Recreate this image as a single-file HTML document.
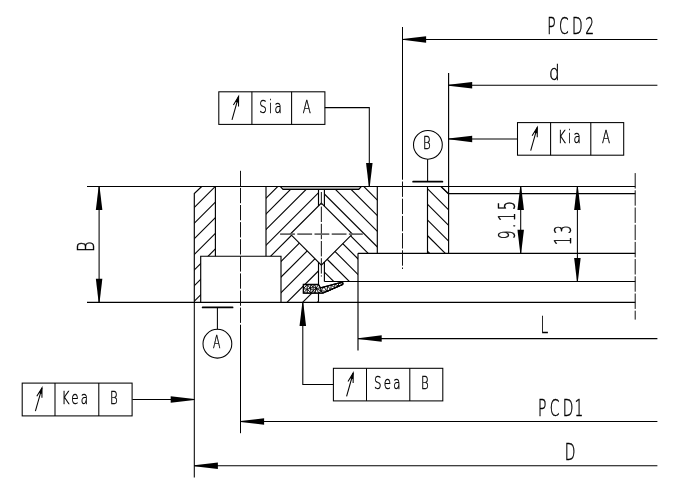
<!DOCTYPE html>
<html><head><meta charset="utf-8"><title>Bearing drawing</title>
<style>
html,body{margin:0;padding:0;background:#fff;}
svg{display:block;}
.o{stroke:#000;stroke-width:1.15;fill:none;stroke-linecap:butt;stroke-linejoin:miter;}
.h{stroke:#000;stroke-width:1.12;fill:none;}
.d{stroke:#000;stroke-width:1.05;fill:none;}
.b{stroke:#000;stroke-width:1.7;fill:none;stroke-linecap:round;}
.c{stroke:#111;stroke-width:1.0;fill:none;}
.cg{stroke:#666;stroke-width:1.6;fill:none;}
.a{fill:#000;stroke:none;}
.rg{stroke:#a8a8a8;stroke-width:1.5;fill:none;}
.seal{fill:#fff;stroke:#000;stroke-width:1.3;stroke-linejoin:miter;}
.mesh{stroke:#000;stroke-width:0.95;fill:none;}
.t{font-family:'DejaVu Sans Light','DejaVu Sans','Liberation Sans',sans-serif;font-weight:200;fill:#000;stroke:#000;stroke-width:0.45;}
</style></head>
<body>
<svg width="686" height="481" viewBox="0 0 686 481" style="will-change:transform">
<rect x="0" y="0" width="686" height="481" fill="#fff"/>
<defs>
<clipPath id="cA"><path d="M194.30 193.60 L201.70 186.50 L215.40 186.50 L215.40 256.20 L200.70 256.20 L200.70 302.40 L194.30 302.40 Z"/></clipPath>
<clipPath id="cB"><path d="M266.00 186.50 L280.40 186.50 L283.00 189.40 L318.50 189.40 L318.50 205.95 L290.35 234.10 L318.50 262.25 L318.50 284.50 L303.25 284.50 L303.25 293.10 L318.50 293.10 L318.50 301.20 L317.40 302.40 L281.00 302.40 L281.00 256.20 L266.00 256.20 Z"/></clipPath>
<clipPath id="cC"><path d="M324.40 189.40 L358.75 189.40 L361.25 186.50 L377.30 186.50 L377.30 253.30 L358.00 253.30 L358.00 281.50 L324.40 281.50 L324.40 262.05 L352.35 234.10 L324.40 206.15 Z"/></clipPath>
<clipPath id="cD"><path d="M427.50 186.50 L441.00 186.50 L448.60 193.60 L448.60 253.30 L427.50 253.30 Z"/></clipPath>
</defs>
<g clip-path="url(#cA)">
<line x1="190.00" y1="133.65" x2="220.00" y2="103.65" class="h" />
<line x1="190.00" y1="149.28" x2="220.00" y2="119.28" class="h" />
<line x1="190.00" y1="164.91" x2="220.00" y2="134.91" class="h" />
<line x1="190.00" y1="180.54" x2="220.00" y2="150.54" class="h" />
<line x1="190.00" y1="196.17" x2="220.00" y2="166.17" class="h" />
<line x1="190.00" y1="211.80" x2="220.00" y2="181.80" class="h" />
<line x1="190.00" y1="227.43" x2="220.00" y2="197.43" class="h" />
<line x1="190.00" y1="243.06" x2="220.00" y2="213.06" class="h" />
<line x1="190.00" y1="258.69" x2="220.00" y2="228.69" class="h" />
<line x1="190.00" y1="274.32" x2="220.00" y2="244.32" class="h" />
<line x1="190.00" y1="289.95" x2="220.00" y2="259.95" class="h" />
<line x1="190.00" y1="305.58" x2="220.00" y2="275.58" class="h" />
<line x1="190.00" y1="321.21" x2="220.00" y2="291.21" class="h" />
<line x1="190.00" y1="336.84" x2="220.00" y2="306.84" class="h" />
<line x1="190.00" y1="352.47" x2="220.00" y2="322.47" class="h" />
<line x1="190.00" y1="368.10" x2="220.00" y2="338.10" class="h" />
<line x1="190.00" y1="383.73" x2="220.00" y2="353.73" class="h" />
<line x1="190.00" y1="399.36" x2="220.00" y2="369.36" class="h" />
<line x1="190.00" y1="414.99" x2="220.00" y2="384.99" class="h" />
<line x1="190.00" y1="430.62" x2="220.00" y2="400.62" class="h" />
<line x1="190.00" y1="446.25" x2="220.00" y2="416.25" class="h" />
<line x1="190.00" y1="461.88" x2="220.00" y2="431.88" class="h" />
<line x1="190.00" y1="477.51" x2="220.00" y2="447.51" class="h" />
<line x1="190.00" y1="493.14" x2="220.00" y2="463.14" class="h" />
<line x1="190.00" y1="508.77" x2="220.00" y2="478.77" class="h" />
<line x1="190.00" y1="524.40" x2="220.00" y2="494.40" class="h" />
<line x1="190.00" y1="540.03" x2="220.00" y2="510.03" class="h" />
<line x1="190.00" y1="555.66" x2="220.00" y2="525.66" class="h" />
<line x1="190.00" y1="571.29" x2="220.00" y2="541.29" class="h" />
<line x1="190.00" y1="586.92" x2="220.00" y2="556.92" class="h" />
<line x1="190.00" y1="602.55" x2="220.00" y2="572.55" class="h" />
<line x1="190.00" y1="618.18" x2="220.00" y2="588.18" class="h" />
<line x1="190.00" y1="633.81" x2="220.00" y2="603.81" class="h" />
<line x1="190.00" y1="649.44" x2="220.00" y2="619.44" class="h" />
<line x1="190.00" y1="665.07" x2="220.00" y2="635.07" class="h" />
<line x1="190.00" y1="680.70" x2="220.00" y2="650.70" class="h" />
<line x1="190.00" y1="696.33" x2="220.00" y2="666.33" class="h" />
<line x1="190.00" y1="711.96" x2="220.00" y2="681.96" class="h" />
<line x1="190.00" y1="727.59" x2="220.00" y2="697.59" class="h" />
<line x1="190.00" y1="743.22" x2="220.00" y2="713.22" class="h" />
<line x1="190.00" y1="758.85" x2="220.00" y2="728.85" class="h" />
<line x1="190.00" y1="774.48" x2="220.00" y2="744.48" class="h" />
<line x1="190.00" y1="790.11" x2="220.00" y2="760.11" class="h" />
<line x1="190.00" y1="805.74" x2="220.00" y2="775.74" class="h" />
<line x1="190.00" y1="821.37" x2="220.00" y2="791.37" class="h" />
</g>
<g clip-path="url(#cB)">
<line x1="260.00" y1="63.65" x2="325.00" y2="-1.35" class="h" />
<line x1="260.00" y1="79.28" x2="325.00" y2="14.28" class="h" />
<line x1="260.00" y1="94.91" x2="325.00" y2="29.91" class="h" />
<line x1="260.00" y1="110.54" x2="325.00" y2="45.54" class="h" />
<line x1="260.00" y1="126.17" x2="325.00" y2="61.17" class="h" />
<line x1="260.00" y1="141.80" x2="325.00" y2="76.80" class="h" />
<line x1="260.00" y1="157.43" x2="325.00" y2="92.43" class="h" />
<line x1="260.00" y1="173.06" x2="325.00" y2="108.06" class="h" />
<line x1="260.00" y1="188.69" x2="325.00" y2="123.69" class="h" />
<line x1="260.00" y1="204.32" x2="325.00" y2="139.32" class="h" />
<line x1="260.00" y1="219.95" x2="325.00" y2="154.95" class="h" />
<line x1="260.00" y1="235.58" x2="325.00" y2="170.58" class="h" />
<line x1="260.00" y1="251.21" x2="325.00" y2="186.21" class="h" />
<line x1="260.00" y1="266.84" x2="325.00" y2="201.84" class="h" />
<line x1="260.00" y1="282.47" x2="325.00" y2="217.47" class="h" />
<line x1="260.00" y1="298.10" x2="325.00" y2="233.10" class="h" />
<line x1="260.00" y1="313.73" x2="325.00" y2="248.73" class="h" />
<line x1="260.00" y1="329.36" x2="325.00" y2="264.36" class="h" />
<line x1="260.00" y1="344.99" x2="325.00" y2="279.99" class="h" />
<line x1="260.00" y1="360.62" x2="325.00" y2="295.62" class="h" />
<line x1="260.00" y1="376.25" x2="325.00" y2="311.25" class="h" />
<line x1="260.00" y1="391.88" x2="325.00" y2="326.88" class="h" />
<line x1="260.00" y1="407.51" x2="325.00" y2="342.51" class="h" />
<line x1="260.00" y1="423.14" x2="325.00" y2="358.14" class="h" />
<line x1="260.00" y1="438.77" x2="325.00" y2="373.77" class="h" />
<line x1="260.00" y1="454.40" x2="325.00" y2="389.40" class="h" />
<line x1="260.00" y1="470.03" x2="325.00" y2="405.03" class="h" />
<line x1="260.00" y1="485.66" x2="325.00" y2="420.66" class="h" />
<line x1="260.00" y1="501.29" x2="325.00" y2="436.29" class="h" />
<line x1="260.00" y1="516.92" x2="325.00" y2="451.92" class="h" />
<line x1="260.00" y1="532.55" x2="325.00" y2="467.55" class="h" />
<line x1="260.00" y1="548.18" x2="325.00" y2="483.18" class="h" />
<line x1="260.00" y1="563.81" x2="325.00" y2="498.81" class="h" />
<line x1="260.00" y1="579.44" x2="325.00" y2="514.44" class="h" />
<line x1="260.00" y1="595.07" x2="325.00" y2="530.07" class="h" />
<line x1="260.00" y1="610.70" x2="325.00" y2="545.70" class="h" />
<line x1="260.00" y1="626.33" x2="325.00" y2="561.33" class="h" />
<line x1="260.00" y1="641.96" x2="325.00" y2="576.96" class="h" />
<line x1="260.00" y1="657.59" x2="325.00" y2="592.59" class="h" />
<line x1="260.00" y1="673.22" x2="325.00" y2="608.22" class="h" />
<line x1="260.00" y1="688.85" x2="325.00" y2="623.85" class="h" />
<line x1="260.00" y1="704.48" x2="325.00" y2="639.48" class="h" />
<line x1="260.00" y1="720.11" x2="325.00" y2="655.11" class="h" />
<line x1="260.00" y1="735.74" x2="325.00" y2="670.74" class="h" />
<line x1="260.00" y1="751.37" x2="325.00" y2="686.37" class="h" />
</g>
<g clip-path="url(#cC)">
<line x1="320.00" y1="64.55" x2="380.00" y2="124.55" class="h" />
<line x1="320.00" y1="80.18" x2="380.00" y2="140.18" class="h" />
<line x1="320.00" y1="95.81" x2="380.00" y2="155.81" class="h" />
<line x1="320.00" y1="111.44" x2="380.00" y2="171.44" class="h" />
<line x1="320.00" y1="127.07" x2="380.00" y2="187.07" class="h" />
<line x1="320.00" y1="142.70" x2="380.00" y2="202.70" class="h" />
<line x1="320.00" y1="158.33" x2="380.00" y2="218.33" class="h" />
<line x1="320.00" y1="173.96" x2="380.00" y2="233.96" class="h" />
<line x1="320.00" y1="189.59" x2="380.00" y2="249.59" class="h" />
<line x1="320.00" y1="205.22" x2="380.00" y2="265.22" class="h" />
<line x1="320.00" y1="220.85" x2="380.00" y2="280.85" class="h" />
<line x1="320.00" y1="236.48" x2="380.00" y2="296.48" class="h" />
<line x1="320.00" y1="252.11" x2="380.00" y2="312.11" class="h" />
<line x1="320.00" y1="267.74" x2="380.00" y2="327.74" class="h" />
<line x1="320.00" y1="283.37" x2="380.00" y2="343.37" class="h" />
<line x1="320.00" y1="299.00" x2="380.00" y2="359.00" class="h" />
<line x1="320.00" y1="314.63" x2="380.00" y2="374.63" class="h" />
<line x1="320.00" y1="330.26" x2="380.00" y2="390.26" class="h" />
<line x1="320.00" y1="345.89" x2="380.00" y2="405.89" class="h" />
<line x1="320.00" y1="361.52" x2="380.00" y2="421.52" class="h" />
<line x1="320.00" y1="377.15" x2="380.00" y2="437.15" class="h" />
<line x1="320.00" y1="392.78" x2="380.00" y2="452.78" class="h" />
<line x1="320.00" y1="408.41" x2="380.00" y2="468.41" class="h" />
<line x1="320.00" y1="424.04" x2="380.00" y2="484.04" class="h" />
<line x1="320.00" y1="439.67" x2="380.00" y2="499.67" class="h" />
<line x1="320.00" y1="455.30" x2="380.00" y2="515.30" class="h" />
<line x1="320.00" y1="470.93" x2="380.00" y2="530.93" class="h" />
<line x1="320.00" y1="486.56" x2="380.00" y2="546.56" class="h" />
<line x1="320.00" y1="502.19" x2="380.00" y2="562.19" class="h" />
<line x1="320.00" y1="517.82" x2="380.00" y2="577.82" class="h" />
<line x1="320.00" y1="533.45" x2="380.00" y2="593.45" class="h" />
<line x1="320.00" y1="549.08" x2="380.00" y2="609.08" class="h" />
<line x1="320.00" y1="564.71" x2="380.00" y2="624.71" class="h" />
<line x1="320.00" y1="580.34" x2="380.00" y2="640.34" class="h" />
<line x1="320.00" y1="595.97" x2="380.00" y2="655.97" class="h" />
<line x1="320.00" y1="611.60" x2="380.00" y2="671.60" class="h" />
<line x1="320.00" y1="627.23" x2="380.00" y2="687.23" class="h" />
<line x1="320.00" y1="642.86" x2="380.00" y2="702.86" class="h" />
<line x1="320.00" y1="658.49" x2="380.00" y2="718.49" class="h" />
<line x1="320.00" y1="674.12" x2="380.00" y2="734.12" class="h" />
<line x1="320.00" y1="689.75" x2="380.00" y2="749.75" class="h" />
<line x1="320.00" y1="705.38" x2="380.00" y2="765.38" class="h" />
<line x1="320.00" y1="721.01" x2="380.00" y2="781.01" class="h" />
<line x1="320.00" y1="736.64" x2="380.00" y2="796.64" class="h" />
<line x1="320.00" y1="752.27" x2="380.00" y2="812.27" class="h" />
</g>
<g clip-path="url(#cD)">
<line x1="425.00" y1="76.79" x2="450.00" y2="101.79" class="h" />
<line x1="425.00" y1="92.42" x2="450.00" y2="117.42" class="h" />
<line x1="425.00" y1="108.05" x2="450.00" y2="133.05" class="h" />
<line x1="425.00" y1="123.68" x2="450.00" y2="148.68" class="h" />
<line x1="425.00" y1="139.31" x2="450.00" y2="164.31" class="h" />
<line x1="425.00" y1="154.94" x2="450.00" y2="179.94" class="h" />
<line x1="425.00" y1="170.57" x2="450.00" y2="195.57" class="h" />
<line x1="425.00" y1="186.20" x2="450.00" y2="211.20" class="h" />
<line x1="425.00" y1="201.83" x2="450.00" y2="226.83" class="h" />
<line x1="425.00" y1="217.46" x2="450.00" y2="242.46" class="h" />
<line x1="425.00" y1="233.09" x2="450.00" y2="258.09" class="h" />
<line x1="425.00" y1="248.72" x2="450.00" y2="273.72" class="h" />
<line x1="425.00" y1="264.35" x2="450.00" y2="289.35" class="h" />
<line x1="425.00" y1="279.98" x2="450.00" y2="304.98" class="h" />
<line x1="425.00" y1="295.61" x2="450.00" y2="320.61" class="h" />
<line x1="425.00" y1="311.24" x2="450.00" y2="336.24" class="h" />
<line x1="425.00" y1="326.87" x2="450.00" y2="351.87" class="h" />
<line x1="425.00" y1="342.50" x2="450.00" y2="367.50" class="h" />
<line x1="425.00" y1="358.13" x2="450.00" y2="383.13" class="h" />
<line x1="425.00" y1="373.76" x2="450.00" y2="398.76" class="h" />
<line x1="425.00" y1="389.39" x2="450.00" y2="414.39" class="h" />
<line x1="425.00" y1="405.02" x2="450.00" y2="430.02" class="h" />
<line x1="425.00" y1="420.65" x2="450.00" y2="445.65" class="h" />
<line x1="425.00" y1="436.28" x2="450.00" y2="461.28" class="h" />
<line x1="425.00" y1="451.91" x2="450.00" y2="476.91" class="h" />
<line x1="425.00" y1="467.54" x2="450.00" y2="492.54" class="h" />
<line x1="425.00" y1="483.17" x2="450.00" y2="508.17" class="h" />
<line x1="425.00" y1="498.80" x2="450.00" y2="523.80" class="h" />
<line x1="425.00" y1="514.43" x2="450.00" y2="539.43" class="h" />
<line x1="425.00" y1="530.06" x2="450.00" y2="555.06" class="h" />
<line x1="425.00" y1="545.69" x2="450.00" y2="570.69" class="h" />
<line x1="425.00" y1="561.32" x2="450.00" y2="586.32" class="h" />
<line x1="425.00" y1="576.95" x2="450.00" y2="601.95" class="h" />
<line x1="425.00" y1="592.58" x2="450.00" y2="617.58" class="h" />
<line x1="425.00" y1="608.21" x2="450.00" y2="633.21" class="h" />
<line x1="425.00" y1="623.84" x2="450.00" y2="648.84" class="h" />
<line x1="425.00" y1="639.47" x2="450.00" y2="664.47" class="h" />
<line x1="425.00" y1="655.10" x2="450.00" y2="680.10" class="h" />
<line x1="425.00" y1="670.73" x2="450.00" y2="695.73" class="h" />
<line x1="425.00" y1="686.36" x2="450.00" y2="711.36" class="h" />
<line x1="425.00" y1="701.99" x2="450.00" y2="726.99" class="h" />
<line x1="425.00" y1="717.62" x2="450.00" y2="742.62" class="h" />
<line x1="425.00" y1="733.25" x2="450.00" y2="758.25" class="h" />
<line x1="425.00" y1="748.88" x2="450.00" y2="773.88" class="h" />
<line x1="425.00" y1="764.51" x2="450.00" y2="789.51" class="h" />
</g>
<line x1="87.00" y1="186.50" x2="635.30" y2="186.50" class="o" />
<line x1="87.00" y1="302.40" x2="635.30" y2="302.40" class="o" />
<line x1="448.60" y1="193.60" x2="635.30" y2="193.60" class="o" />
<line x1="358.00" y1="253.30" x2="635.30" y2="253.30" class="o" />
<line x1="324.40" y1="281.50" x2="635.30" y2="281.50" class="o" />
<path d="M194.30 302.40 L194.30 193.60 L201.70 186.50" class="o" />
<line x1="215.40" y1="186.50" x2="215.40" y2="256.20" class="o" />
<path d="M200.70 302.40 L200.70 256.20 L281.00 256.20 L281.00 302.40" class="o" />
<line x1="266.00" y1="186.50" x2="266.00" y2="256.20" class="o" />
<line x1="282.40" y1="188.00" x2="359.40" y2="188.00" class="rg" />
<path d="M280.40 186.50 L283.00 189.40 L358.75 189.40 L361.25 186.50" class="o" />
<line x1="318.50" y1="189.40" x2="318.50" y2="205.95" class="o" />
<line x1="324.40" y1="189.40" x2="324.40" y2="206.15" class="o" />
<line x1="318.50" y1="262.25" x2="318.50" y2="284.50" class="o" />
<line x1="324.40" y1="262.05" x2="324.40" y2="281.50" class="o" />
<path d="M318.50 293.10 L318.50 301.20 L317.40 302.40" class="o" />
<path d="M321.35 203.10 L352.35 234.10 L321.35 265.10 L290.35 234.10 Z" class="o" />
<path d="M377.30 186.50 L377.30 253.30" class="o" />
<line x1="358.00" y1="253.30" x2="358.00" y2="350.40" class="o" />
<line x1="427.50" y1="186.50" x2="427.50" y2="253.30" class="o" />
<path d="M441.00 186.50 L448.60 193.60" class="o" />
<line x1="448.60" y1="73.00" x2="448.60" y2="253.30" class="o" />
<path d="M303.40 284.50 L318.50 284.50 L320.40 287.90 L342.00 282.10 L343.00 282.90 L342.70 284.50 L322.90 293.10 L303.40 293.10 Z" class="seal"/>
<path d="M303.4 284.5L307.2 284.5 M303.4 284.5L303.4 288.8 M307.2 284.5L310.9 284.5 M307.2 284.5L303.4 288.8 M307.2 284.5L310.4 288.5 M307.2 284.5L307.2 289.1 M310.9 284.5L314.7 284.5 M310.9 284.5L310.4 288.5 M310.9 284.5L312.9 286.8 M314.7 284.5L318.5 284.5 M314.7 284.5L315.9 288.5 M314.7 284.5L312.9 286.8 M318.5 284.5L320.4 287.9 M318.5 284.5L315.9 288.5 M320.4 287.9L324.0 286.9 M320.4 287.9L315.9 288.5 M320.4 287.9L320.9 290.8 M324.0 286.9L327.6 286.0 M324.0 286.9L326.9 291.4 M324.0 286.9L320.9 290.8 M327.6 286.0L331.2 285.0 M327.6 286.0L330.8 289.7 M327.6 286.0L326.9 291.4 M331.2 285.0L334.8 284.0 M331.2 285.0L334.8 287.9 M331.2 285.0L330.8 289.7 M334.8 284.0L338.4 283.1 M334.8 284.0L338.7 286.2 M334.8 284.0L334.8 287.9 M338.4 283.1L342.0 282.1 M338.4 283.1L342.7 284.5 M338.4 283.1L338.7 286.2 M342.0 282.1L343.0 282.9 M342.0 282.1L342.7 284.5 M343.0 282.9L342.7 284.5 M342.7 284.5L338.7 286.2 M342.7 284.5L326.9 291.4 M338.7 286.2L334.8 287.9 M338.7 286.2L326.9 291.4 M334.8 287.9L330.8 289.7 M334.8 287.9L326.9 291.4 M330.8 289.7L326.9 291.4 M326.9 291.4L322.9 293.1 M326.9 291.4L320.9 290.8 M322.9 293.1L319.0 293.1 M322.9 293.1L320.9 290.8 M319.0 293.1L315.1 293.1 M319.0 293.1L315.9 288.5 M319.0 293.1L320.9 290.8 M315.1 293.1L311.2 293.1 M315.1 293.1L315.9 288.5 M315.1 293.1L313.4 290.5 M311.2 293.1L307.3 293.1 M311.2 293.1L310.4 288.5 M311.2 293.1L307.2 289.1 M311.2 293.1L313.4 290.5 M307.3 293.1L303.4 293.1 M307.3 293.1L307.2 289.1 M303.4 293.1L303.4 288.8 M303.4 293.1L307.2 289.1 M303.4 288.8L307.2 289.1 M310.4 288.5L307.2 289.1 M310.4 288.5L313.4 290.5 M310.4 288.5L312.9 286.8 M315.9 288.5L320.9 290.8 M315.9 288.5L313.4 290.5 M315.9 288.5L312.9 286.8 M313.4 290.5L312.9 286.8" class="mesh"/>
<line x1="240.50" y1="170.80" x2="240.50" y2="322.90" class="c" stroke-dasharray="15.3 1.8"/>
<line x1="240.50" y1="324.70" x2="240.50" y2="433.20" class="d" />
<line x1="402.50" y1="27.00" x2="402.50" y2="179.70" class="d" />
<line x1="402.50" y1="181.50" x2="402.50" y2="269.00" class="c" stroke-dasharray="15.4 1.8"/>
<line x1="635.20" y1="173.10" x2="635.20" y2="319.60" class="c" stroke-dasharray="15.4 1.8"/>
<line x1="321.35" y1="192.00" x2="321.35" y2="276.50" class="c" stroke-dasharray="15.4 1.8" stroke-dashoffset="2.6"/>
<line x1="280.10" y1="234.10" x2="362.80" y2="234.10" class="cg" stroke-dasharray="14.8 2.4"/>
<line x1="402.50" y1="39.40" x2="657.40" y2="39.40" class="d" />
<polygon points="402.50,39.85 426.10,42.65 426.10,36.15 402.50,38.95" class="a"/>
<line x1="448.60" y1="85.20" x2="657.40" y2="85.20" class="d" />
<polygon points="448.60,85.65 472.20,88.45 472.20,81.95 448.60,84.75" class="a"/>
<line x1="448.60" y1="138.90" x2="517.50" y2="138.90" class="d" />
<polygon points="448.60,139.35 472.20,142.15 472.20,135.65 448.60,138.45" class="a"/>
<line x1="358.10" y1="338.60" x2="657.40" y2="338.60" class="d" />
<polygon points="358.10,339.05 381.70,341.85 381.70,335.35 358.10,338.15" class="a"/>
<line x1="240.50" y1="421.50" x2="657.40" y2="421.50" class="d" />
<polygon points="240.50,421.95 264.10,424.75 264.10,418.25 240.50,421.05" class="a"/>
<line x1="194.30" y1="465.70" x2="657.40" y2="465.70" class="d" />
<polygon points="194.30,466.15 217.90,468.95 217.90,462.45 194.30,465.25" class="a"/>
<line x1="194.30" y1="302.40" x2="194.30" y2="477.60" class="d" />
<line x1="132.40" y1="399.50" x2="194.30" y2="399.50" class="d" />
<polygon points="194.30,399.05 170.70,396.25 170.70,402.75 194.30,399.95" class="a"/>
<line x1="99.10" y1="186.50" x2="99.10" y2="302.40" class="d" />
<polygon points="98.65,186.50 95.85,210.10 102.35,210.10 99.55,186.50" class="a"/>
<polygon points="99.55,302.40 102.35,278.80 95.85,278.80 98.65,302.40" class="a"/>
<line x1="520.70" y1="186.50" x2="520.70" y2="253.30" class="d" />
<polygon points="520.25,186.50 517.45,210.10 523.95,210.10 521.15,186.50" class="a"/>
<polygon points="521.15,253.30 523.95,229.70 517.45,229.70 520.25,253.30" class="a"/>
<line x1="577.40" y1="186.50" x2="577.40" y2="281.50" class="d" />
<polygon points="576.95,186.50 574.15,210.10 580.65,210.10 577.85,186.50" class="a"/>
<polygon points="577.85,281.50 580.65,257.90 574.15,257.90 576.95,281.50" class="a"/>
<path d="M324.80 107.60 L369.30 107.60 L369.30 186.50" class="d" />
<polygon points="369.75,186.50 372.55,162.90 366.05,162.90 368.85,186.50" class="a"/>
<path d="M333.40 384.50 L302.80 384.50 L302.80 302.40" class="d" />
<polygon points="302.35,302.40 299.55,326.00 306.05,326.00 303.25,302.40" class="a"/>
<circle cx="427.9" cy="144.8" r="14.4" class="d"/>
<line x1="427.60" y1="159.20" x2="427.60" y2="181.60" class="d" />
<line x1="413.10" y1="181.70" x2="442.40" y2="181.70" class="b" />
<circle cx="217.4" cy="343.7" r="14.4" class="d"/>
<line x1="217.40" y1="307.40" x2="217.40" y2="329.30" class="d" />
<line x1="202.60" y1="307.40" x2="232.60" y2="307.40" class="b" />
<rect x="218.80" y="91.80" width="106.10" height="32.6" class="d"/>
<line x1="251.90" y1="91.80" x2="251.90" y2="124.40" class="d" />
<line x1="291.60" y1="91.80" x2="291.60" y2="124.40" class="d" />
<line x1="232.00" y1="119.80" x2="238.60" y2="96.50" class="d" />
<path d="M238.54 106.50 L238.60 96.50 L233.41 105.05" class="d" />
<polygon points="238.60,96.50 238.56,102.70 235.38,101.80" class="a"/>
<text transform="translate(259.30,113.00) scale(0.66,1)" font-size="17.9" letter-spacing="3.4" text-anchor="start" class="t">Sia</text>
<text transform="translate(302.70,113.00) scale(0.66,1)" font-size="17.9" letter-spacing="0" text-anchor="start" class="t">A</text>
<rect x="517.50" y="122.60" width="106.20" height="32.6" class="d"/>
<line x1="550.60" y1="122.60" x2="550.60" y2="155.20" class="d" />
<line x1="590.80" y1="122.60" x2="590.80" y2="155.20" class="d" />
<line x1="530.70" y1="150.60" x2="537.30" y2="127.30" class="d" />
<path d="M537.24 137.30 L537.30 127.30 L532.11 135.85" class="d" />
<polygon points="537.30,127.30 537.26,133.50 534.08,132.60" class="a"/>
<text transform="translate(558.00,143.30) scale(0.66,1)" font-size="17.9" letter-spacing="3.4" text-anchor="start" class="t">Kia</text>
<text transform="translate(601.90,143.30) scale(0.66,1)" font-size="17.9" letter-spacing="0" text-anchor="start" class="t">A</text>
<rect x="22.20" y="383.10" width="109.90" height="32.8" class="d"/>
<line x1="55.00" y1="383.10" x2="55.00" y2="415.90" class="d" />
<line x1="98.80" y1="383.10" x2="98.80" y2="415.90" class="d" />
<line x1="35.40" y1="411.10" x2="42.00" y2="387.80" class="d" />
<path d="M41.94 397.80 L42.00 387.80 L36.81 396.35" class="d" />
<polygon points="42.00,387.80 41.96,394.00 38.78,393.10" class="a"/>
<text transform="translate(61.80,404.30) scale(0.66,1)" font-size="17.9" letter-spacing="3.4" text-anchor="start" class="t">Kea</text>
<text transform="translate(109.90,404.30) scale(0.66,1)" font-size="17.9" letter-spacing="0" text-anchor="start" class="t">B</text>
<rect x="333.40" y="368.30" width="109.40" height="32.6" class="d"/>
<line x1="366.50" y1="368.30" x2="366.50" y2="400.90" class="d" />
<line x1="409.80" y1="368.30" x2="409.80" y2="400.90" class="d" />
<line x1="346.60" y1="396.30" x2="353.20" y2="373.00" class="d" />
<path d="M353.14 383.00 L353.20 373.00 L348.01 381.55" class="d" />
<polygon points="353.20,373.00 353.16,379.20 349.98,378.30" class="a"/>
<text transform="translate(373.90,389.00) scale(0.66,1)" font-size="17.9" letter-spacing="3.4" text-anchor="start" class="t">Sea</text>
<text transform="translate(420.90,389.00) scale(0.66,1)" font-size="17.9" letter-spacing="0" text-anchor="start" class="t">B</text>
<text transform="translate(423.10,149.20) scale(0.66,1)" font-size="17.9" letter-spacing="0" text-anchor="start" class="t">B</text>
<text transform="translate(213.00,348.10) scale(0.64,1)" font-size="17.0" letter-spacing="0" text-anchor="start" class="t">A</text>
<text transform="translate(547.30,33.60) scale(0.62,1)" font-size="22.3" letter-spacing="5.5" text-anchor="start" class="t">PCD<tspan x="61.13">2</tspan></text>
<text transform="translate(549.00,79.80) scale(0.78,1)" font-size="21.6" letter-spacing="0" text-anchor="start" class="t">d</text>
<text transform="translate(540.60,333.10) scale(0.62,1)" font-size="22.3" letter-spacing="0" text-anchor="start" class="t">L</text>
<text transform="translate(538.00,415.50) scale(0.62,1)" font-size="22.3" letter-spacing="5.5" text-anchor="start" class="t">PCD<tspan x="59.03">1</tspan></text>
<text transform="translate(564.80,459.80) scale(0.62,1)" font-size="22.3" letter-spacing="0" text-anchor="start" class="t">D</text>
<text transform="translate(93.50,251.90) rotate(-90) scale(0.72,1)" font-size="22.3" letter-spacing="0" text-anchor="start" class="t">B</text>
<text transform="translate(514.60,239.30) rotate(-90) scale(0.62,1)" font-size="22.3" letter-spacing="3.9" text-anchor="start" class="t">9.15</text>
<text transform="translate(571.30,245.20) rotate(-90) scale(0.62,1)" font-size="22.3" letter-spacing="3.7" text-anchor="start" class="t">13</text>
</svg>
</body></html>
